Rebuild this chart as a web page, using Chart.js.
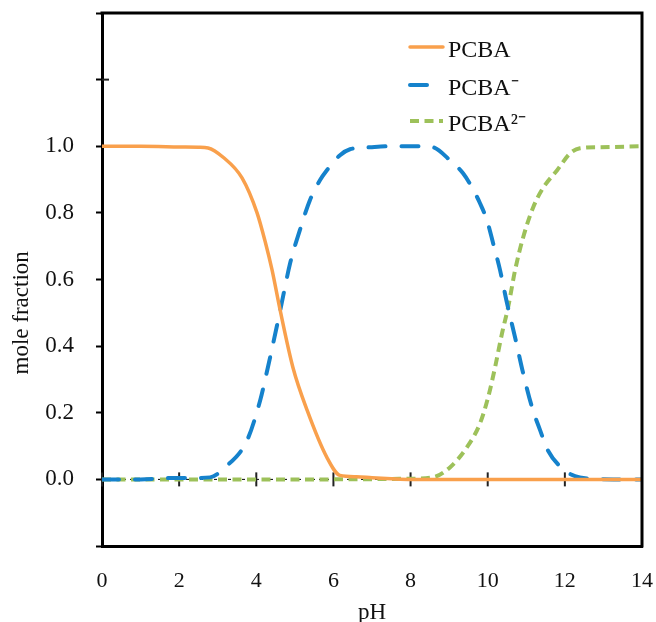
<!DOCTYPE html>
<html>
<head>
<meta charset="utf-8">
<script src="https://cdn.jsdelivr.net/npm/chart.js@4.4.0/dist/chart.umd.min.js"></script>
<style>
  html, body { margin: 0; padding: 0; background: #fff; }
  canvas { display: block; }
</style>
</head>
<body>
<canvas id="chart" width="656" height="622"></canvas>
<script>
const seriesNames = ["PCBA", "PCBA\u207B", "PCBA\u00B2\u207B"];

// PCBA (neutral form)
const pHNeutral = [0, 1, 2, 2.5, 2.75, 3.14, 3.63, 4.02, 4.23, 4.41, 4.62, 4.95, 5.32, 5.83, 6.17, 6.6, 7.0, 7.5, 8, 10, 12, 14];
const fracNeutral = [1.0, 1.0, 0.998, 0.997, 0.995, 0.967, 0.905, 0.80, 0.714, 0.628, 0.507, 0.336, 0.207, 0.066, 0.012, 0.008, 0.005, 0.002, 0, 0, 0, 0];

// PCBA- (mono-anion)
const pHMono = [0, 1, 1.8, 2.2, 2.8, 3.19, 3.76, 4.10, 4.30, 4.62, 4.88, 5.13, 5.39, 5.65, 5.83, 6.17, 6.43, 6.95, 7.47, 8.24, 8.58, 9.02, 9.36, 9.59, 9.80, 9.98, 10.14, 10.32, 10.50, 10.71, 10.92, 11.15, 11.36, 11.56, 12.0, 12.39, 13.25, 14];
const fracMono = [0, 0, 0.004, 0.004, 0.006, 0.036, 0.117, 0.237, 0.336, 0.507, 0.65, 0.748, 0.838, 0.898, 0.928, 0.973, 0.991, 0.997, 1.0, 1.0, 0.997, 0.958, 0.919, 0.877, 0.829, 0.778, 0.709, 0.628, 0.529, 0.426, 0.318, 0.216, 0.147, 0.087, 0.027, 0.006, 0, 0];

// PCBA2- (di-anion)
const pHDi = [0, 2, 4, 6, 8, 8.58, 9.02, 9.46, 9.80, 10.01, 10.19, 10.37, 10.53, 10.71, 10.92, 11.18, 11.43, 11.80, 12.14, 12.39, 12.91, 14];
const fracDi = [0, 0, 0, 0, 0.002, 0.006, 0.036, 0.096, 0.168, 0.246, 0.336, 0.438, 0.517, 0.628, 0.727, 0.817, 0.874, 0.928, 0.979, 0.994, 0.997, 1.0];

const xTicks = [0, 2, 4, 6, 8, 10, 12, 14];
const yTickLabels = ["0.0", "0.2", "0.4", "0.6", "0.8", "1.0"];

const serif = "'Liberation Serif', 'Times New Roman', serif";
const colors = ["#F9A04C", "#1582CC", "#9DC15A"];
const dashes = [[], [17, 16], [9, 5.5]];
const caps = ["round", "round", "butt"];

function toPoints(xs, ys) {
  return xs.map((x, i) => ({ x: x, y: ys[i] }));
}

const seriesData = [
  toPoints(pHNeutral, fracNeutral),
  toPoints(pHMono, fracMono),
  toPoints(pHDi, fracDi)
];

const framePlugin = {
  id: "frame",
  beforeDatasetsDraw(chart) {
    const { ctx, chartArea: a, scales: { x, y } } = chart;
    const y0 = y.getPixelForValue(0);
    ctx.save();
    ctx.strokeStyle = "#000";
    ctx.lineWidth = 1;
    ctx.setLineDash([3, 4]);
    ctx.beginPath();
    ctx.moveTo(a.left, y0);
    ctx.lineTo(a.right, y0);
    ctx.stroke();
    ctx.setLineDash([]);
    ctx.lineWidth = 2;
    ctx.strokeStyle = "#222";
    xTicks.forEach(v => {
      const px = x.getPixelForValue(v);
      ctx.beginPath();
      ctx.moveTo(px, y0 - 7);
      ctx.lineTo(px, y0 + 7);
      ctx.stroke();
    });
    // inward half of the y tick at 1.2
    const py = y.getPixelForValue(1.2);
    ctx.beginPath();
    ctx.moveTo(a.left, py);
    ctx.lineTo(a.left + 7, py);
    ctx.stroke();
    ctx.restore();
  },
  afterDraw(chart) {
    const { ctx, chartArea: a, scales: { x, y } } = chart;
    ctx.save();
    // top and right sides of the frame
    ctx.strokeStyle = "#000";
    ctx.lineWidth = 3;
    ctx.beginPath();
    ctx.moveTo(a.left - 1.5, a.top);
    ctx.lineTo(a.right, a.top);
    ctx.lineTo(a.right, a.bottom + 1.5);
    ctx.stroke();

    // axis titles
    ctx.fillStyle = "#111";
    ctx.font = "23px " + serif;
    ctx.textAlign = "center";
    ctx.textBaseline = "middle";
    ctx.fillText("pH", x.getPixelForValue(7), a.bottom + 67);
    ctx.save();
    ctx.translate(22, y.getPixelForValue(0.5));
    ctx.rotate(-Math.PI / 2);
    ctx.fillText("mole fraction", 0, 0);
    ctx.restore();

    // legend
    ctx.font = "24px " + serif;
    const rows = [38, 76, 112];
    chart.data.datasets.forEach((ds, i) => {
      const ty = a.top + rows[i];
      const ly = ty - 4;
      ctx.strokeStyle = ds.borderColor;
      ctx.lineWidth = ds.borderWidth;
      ctx.lineCap = ds.borderCapStyle;
      ctx.setLineDash(ds.borderDash);
      ctx.beginPath();
      ctx.moveTo(a.right - 232, ly);
      ctx.lineTo(a.right - 199, ly);
      ctx.stroke();
      ctx.setLineDash([]);
      ctx.fillStyle = "#111";
      ctx.textAlign = "left";
      ctx.fillText(ds.label, a.right - 194, ty);
    });
    ctx.restore();
  }
};

new Chart(document.getElementById("chart"), {
  type: "line",
  data: {
    datasets: seriesData.map((pts, i) => ({
      label: seriesNames[i],
      data: pts,
      borderColor: colors[i],
      borderWidth: i === 0 ? 3.5 : 4,
      borderDash: dashes[i],
      borderCapStyle: caps[i],
      pointRadius: 0,
      cubicInterpolationMode: "monotone",
      fill: false
    }))
  },
  options: {
    responsive: false,
    animation: false,
    layout: { padding: { top: 13, right: 14, left: 0, bottom: 0 } },
    plugins: {
      legend: { display: false },
      tooltip: { enabled: false }
    },
    scales: {
      x: {
        type: "linear",
        min: 0,
        max: 14,
        afterFit: s => {
          s.height = 76;
          s.paddingLeft = 0;
          s.paddingRight = 0;
        },
        afterBuildTicks: s => { s.ticks = xTicks.map(v => ({ value: v })); },
        grid: { display: false },
        border: { display: true, color: "#000", width: 3 },
        ticks: {
          padding: 14,
          color: "#111",
          font: { family: serif, size: 22 },
          maxRotation: 0
        }
      },
      y: {
        type: "linear",
        min: -0.2,
        max: 1.4,
        afterFit: s => {
          s.width = 102;
          s.paddingTop = 0;
          s.paddingBottom = 0;
        },
        grid: {
          drawOnChartArea: false,
          drawTicks: true,
          tickLength: 6,
          tickWidth: 2,
          tickColor: "#000"
        },
        border: { display: true, color: "#000", width: 3 },
        ticks: {
          stepSize: 0.2,
          padding: 22,
          color: "#111",
          font: { family: serif, size: 23 },
          callback: v => {
            const idx = Math.round(v / 0.2);
            return idx >= 0 && idx < yTickLabels.length ? yTickLabels[idx] : "";
          }
        }
      }
    }
  },
  plugins: [framePlugin]
});
</script>
</body>
</html>
